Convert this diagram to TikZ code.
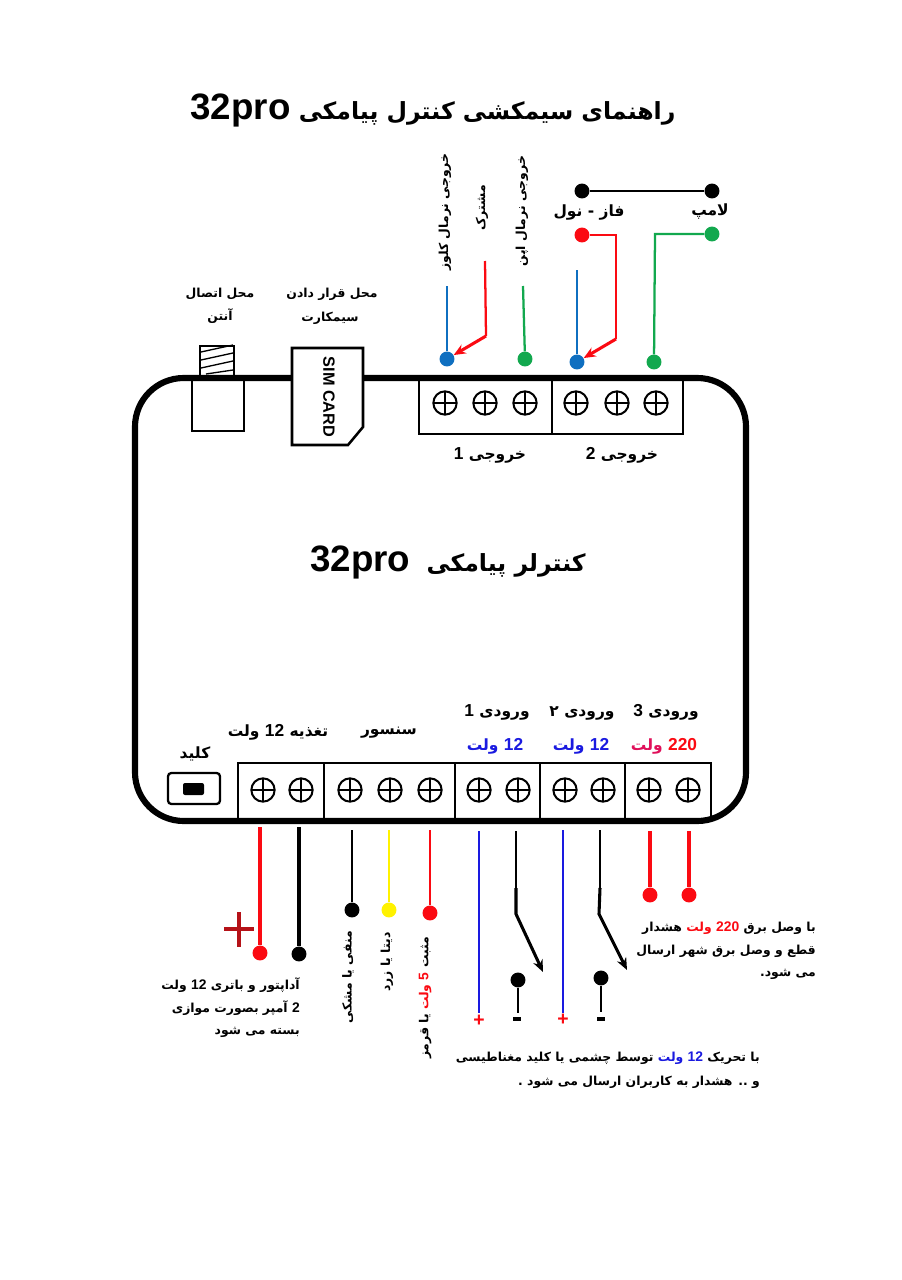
\documentclass[tikz,border=0pt]{standalone}
\usepackage{fontspec}
\usepackage{tikz}
\usetikzlibrary{arrows.meta}
\TeXXeTstate=1
\newfontfamily\arabicfont[Script=Arabic]{DejaVu Sans}
\newfontfamily\numfont[Scale=1.12]{Liberation Sans}
\definecolor{wirered}{HTML}{FB0A12}
\definecolor{wireblue}{HTML}{0F6FC0}
\definecolor{wiregreen}{HTML}{12A84E}
\definecolor{inblue}{HTML}{1A1AE0}
\definecolor{pinkred}{HTML}{E0105A}
\definecolor{plusred}{HTML}{B51218}
\newcommand\fa[1]{\beginR #1\endR}
\newcommand\nm[1]{\hbox{\numfont\bfseries #1}}
\tikzset{
	x=0.75pt, y=-0.75pt,
	dot/.style={circle, fill=#1, inner sep=0, minimum size=11.2pt},
	screw/.style={circle, draw, line width=1.5pt, inner sep=0, minimum size=17.5pt,
		path picture={\draw[line width=1.1pt]
			(path picture bounding box.north) -- (path picture bounding box.south)
			(path picture bounding box.west) -- (path picture bounding box.east);}},
	block/.style={draw, line width=1.9pt},
	wire/.style={color=#1, line width=1.7pt},
	thickwire/.style={color=#1, line width=2.5pt},
	tipwire/.style={color=#1, line width=2.3pt, -{Stealth[length=9pt, width=7.5pt]}},
	titlefa/.style={font=\arabicfont\bfseries\fontsize{17.7}{22}\selectfont, inner sep=0},
	headfa/.style={font=\arabicfont\bfseries\fontsize{11.6}{15}\selectfont, inner sep=0},
	smallfa/.style={font=\arabicfont\bfseries\fontsize{9.3}{12}\selectfont, inner sep=0},
	sign/.style={font=\numfont\bfseries\fontsize{13}{13}\selectfont, inner sep=0},
}
\newcommand\bignm{\hbox{\numfont\bfseries\fontsize{24.6}{26}\selectfont 32pro}}
\begin{document}
\begin{tikzpicture}
	\useasboundingbox (0, 0) rectangle (902, 1280);
	\fill[white] (0, 0) rectangle (902, 1280);

	%%%%% BOARD %%%%%
	\draw[line width=4.6pt, rounded corners=36.5pt] (135, 378) rectangle (746, 821);

	\node[titlefa] (title) at (433, 110) {\fa{راهنمای سیمکشی کنترل پیامکی \bignm}};
	\node[titlefa] (boardname) at (448, 562) {\fa{کنترلر پیامکی \ \bignm}};

	%%%%% ANTENNA AND SIM %%%%%
	\draw[line width=1.9pt] (200, 346) rectangle (234, 377);
	\foreach \ya in {352, 360, 368} {
		\draw[line width=1pt] (201, \ya) -- (233, \ya-7);
	}
	\draw[line width=1pt] (206, 374) -- (233, 370);
	\draw[line width=1.9pt] (192, 378) rectangle (244, 431);

	\draw[block, fill=white] (292, 348) -- (363, 348) -- (363, 427) -- (348, 445) -- (292, 445) -- cycle;
	\node[rotate=-90, font=\numfont\bfseries\fontsize{10.9}{13}\selectfont, inner sep=0] (simcard) at (329, 397) {SIM CARD};

	\node[smallfa] (antenna1) at (220, 294) {\fa{محل اتصال}};
	\node[smallfa] (antenna2) at (220, 316) {\fa{آنتن}};
	\node[smallfa] (sim1) at (332, 294) {\fa{محل قرار دادن}};
	\node[smallfa] (sim2) at (330, 318) {\fa{سیمکارت}};

	%%%%% TOP BLOCK %%%%%
	\draw[block] (419, 378) rectangle (683, 434);
	\draw[line width=1.9pt] (552, 378) -- (552, 434);
	\foreach \xa in {445, 485, 525, 576, 617, 656} {
		\node[screw] (top\xa) at (\xa, 403) {};
	}
	\node[headfa] (out1) at (490, 455) {\fa{خروجی \nm{1}}};
	\node[headfa] (out2) at (622, 455) {\fa{خروجی \nm{2}}};

	\node[dot=wireblue] (nc) at (447, 359) {};
	\node[dot=wiregreen] (no) at (525, 359) {};
	\node[dot=wireblue] (com) at (577, 362) {};
	\node[dot=wiregreen] (lampin) at (654, 362) {};
	\node[dot=black] (phase) at (582, 191) {};
	\node[dot=black] (lamp) at (712, 191) {};
	\node[dot=wirered] (phasered) at (582, 235) {};
	\node[dot=wiregreen] (lampgreen) at (712, 234) {};

	\coordinate (ncend) at (447, 286);
	\coordinate (noend) at (523, 286);
	\coordinate (comend) at (577, 270);
	\coordinate (sharedend) at (485, 261);
	\coordinate (sharedbend) at (486, 336);
	\coordinate (phasebend) at (616, 339);

	\draw[wire=wireblue] (nc) -- (ncend);
	\draw[wire=wiregreen] (no) -- (noend);
	\draw[wire=wireblue] (com) -- (comend);
	\draw[line width=1.2pt] (phase) -- (lamp);
	\draw[wire=wirered] (sharedend) -- (sharedbend);
	\draw[tipwire=wirered] (sharedbend) -- (nc);
	\draw[wire=wirered] (phasered) -- (616, 235) -- (phasebend);
	\draw[tipwire=wirered] (phasebend) -- (com);
	\draw[wire=wiregreen] (lampgreen) -- (655, 234) -- (lampin);

	\node[smallfa, rotate=90] (nclabel) at (445, 212) {\fa{خروجی نرمال کلوز}};
	\node[smallfa, rotate=90] (sharedlabel) at (482, 208) {\fa{مشترک}};
	\node[smallfa, rotate=90] (nolabel) at (522, 211) {\fa{خروجی نرمال اپن}};
	\node[headfa] (phaselabel) at (589, 213) {\fa{فاز - نول}};
	\node[headfa] (lamplabel) at (710, 212) {\fa{لامپ}};

	%%%%% BOTTOM BLOCK %%%%%
	\draw[block] (238, 763) rectangle (711, 821);
	\foreach \xa in {324, 455, 540, 625} {
		\draw[line width=1.9pt] (\xa, 763) -- (\xa, 821);
	}
	\foreach \xa in {263, 301, 350, 390, 430, 479, 518, 565, 603, 649, 688} {
		\node[screw] (bot\xa) at (\xa, 790) {};
	}
	\draw[line width=1.7pt, rounded corners=2.5pt] (168, 773) rectangle (220, 804);
	\fill[rounded corners=1.5pt] (183, 783) rectangle (204, 795);

	\node[headfa] (keylabel) at (195, 754) {\fa{کلید}};
	\node[headfa] (powerlabel) at (278, 732) {\fa{تغذیه \nm{12} ولت}};
	\node[headfa] (sensorlabel) at (389, 733) {\fa{سنسور}};
	\node[headfa] (in1) at (497, 712) {\fa{ورودی \nm{1}}};
	\node[headfa] (in2) at (582, 713) {\fa{ورودی ۲}};
	\node[headfa] (in3) at (666, 712) {\fa{ورودی \nm{3}}};
	\node[headfa, text=inblue] (volt1) at (495, 746) {\fa{\nm{12} ولت}};
	\node[headfa, text=inblue] (volt2) at (581, 746) {\fa{\nm{12} ولت}};
	% coloured lines are set piece by piece, left to right
	\node[headfa] (volt3) at (664, 746) {{\color{pinkred}\fa{ولت}} {\color{wirered}\nm{220}}};

	%%%%% POWER AND SENSOR %%%%%
	\node[dot=wirered] (powerplus) at (260, 953) {};
	\node[dot=black] (powerminus) at (299, 954) {};
	\node[dot=black] (sensorneg) at (352, 910) {};
	\node[dot=yellow] (sensordata) at (389, 910) {};
	\node[dot=wirered] (sensorpos) at (430, 913) {};
	\coordinate (p1) at (260, 827);
	\coordinate (p2) at (299, 827);
	\coordinate (s1) at (352, 830);
	\coordinate (s2) at (389, 830);
	\coordinate (s3) at (430, 830);
	\draw[thickwire=wirered] (p1) -- (powerplus);
	\draw[thickwire=black] (p2) -- (powerminus);
	\draw[wire=black] (s1) -- (sensorneg);
	\draw[wire=yellow] (s2) -- (sensordata);
	\draw[wire=wirered] (s3) -- (sensorpos);
	\draw[color=plusred, line width=2.7pt] (224, 929) -- (254, 929) (239, 912) -- (239, 947);

	\node[smallfa, rotate=90] (neglabel) at (348, 977) {\fa{منفی یا مشکی}};
	\node[smallfa, rotate=90] (datalabel) at (387, 962) {\fa{دیتا یا  زرد}};
	\node[smallfa, rotate=90] (poslabel) at (425, 998) {\fa{یا قرمز} {\color{wirered}\fa{ولت} \nm{5}} \fa{مثبت}};

	\node[smallfa, anchor=east] (adapter1) at (300, 985) {\fa{آداپتور و باتری \nm{12} ولت}};
	\node[smallfa, anchor=east] (adapter2) at (300, 1008) {\fa{\nm{2} آمپر بصورت موازی}};
	\node[smallfa, anchor=east] (adapter3) at (300, 1032) {\fa{بسته می شود}};

	%%%%% INPUT WIRES %%%%%
	\coordinate (i1) at (479, 831);
	\coordinate (i1end) at (479, 1013);
	\coordinate (i2) at (563, 830);
	\coordinate (i2end) at (563, 1013);
	\draw[wire=inblue] (i1) -- (i1end);
	\draw[wire=inblue] (i2) -- (i2end);
	\node[sign, text=wirered] (plus1) at (479, 1021) {+};
	\node[sign, text=wirered] (plus2) at (563, 1020) {+};

	\draw[line width=1.2pt] (516, 831) -- (516, 888);
	\draw[tipwire=black] (516, 888) -- (516, 914) -- (543, 972);
	\draw[line width=1.2pt] (600, 830) -- (600, 888);
	\draw[tipwire=black] (600, 888) -- (599, 914) -- (627, 970);

	\node[dot=black] (contact1) at (518, 980) {};
	\node[dot=black] (contact2) at (601, 978) {};
	\coordinate (c1end) at (518, 1013);
	\coordinate (c2end) at (601, 1012);
	\draw[line width=2pt] (contact1) -- (c1end);
	\draw[line width=2pt] (contact2) -- (c2end);
	\node[sign] (minus1) at (517, 1019) {\rule{6pt}{2.4pt}};
	\node[sign] (minus2) at (601, 1019) {\rule{6pt}{2.4pt}};

	\node[dot=wirered] (mains1) at (650, 895) {};
	\node[dot=wirered] (mains2) at (689, 895) {};
	\coordinate (m1) at (650, 831);
	\coordinate (m2) at (689, 831);
	\draw[thickwire=wirered] (m1) -- (mains1);
	\draw[thickwire=wirered] (m2) -- (mains2);

	\node[smallfa, anchor=east] (mainsnote1) at (816, 928) {\fa{هشدار} {\color{wirered}\fa{ولت} \nm{220}} \fa{با وصل برق}};
	\node[smallfa, anchor=east] (mainsnote2) at (816, 951) {\fa{قطع و وصل برق شهر  ارسال}};
	\node[smallfa, anchor=east] (mainsnote3) at (816, 974) {\fa{می شود.}};
	\node[smallfa, anchor=east] (trignote1) at (760, 1058) {\fa{توسط چشمی یا کلید مغناطیسی} {\color{inblue}\fa{ولت} \nm{12}} \fa{با تحریک}};
	\node[smallfa, anchor=east] (trignote2) at (760, 1082) {\fa{و .. هشدار به کاربران ارسال می شود .}};
\end{tikzpicture}
\end{document}
